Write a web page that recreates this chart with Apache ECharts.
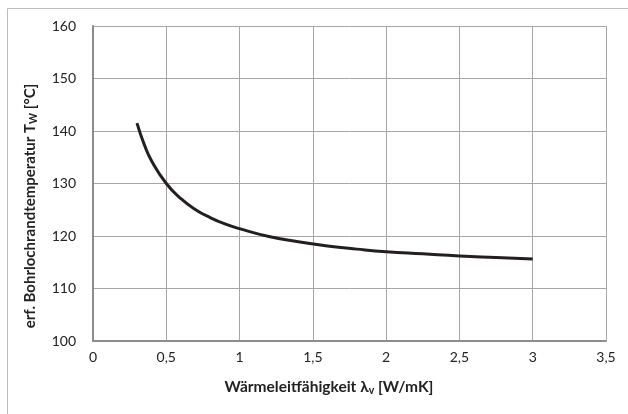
<!DOCTYPE html>
<html>
<head>
<meta charset="utf-8">
<script src="https://cdn.jsdelivr.net/npm/echarts@6/dist/echarts.min.js"></script>
<style>html,body{margin:0;padding:0;background:#fff;}#c{width:628px;height:414px;}</style>
</head>
<body>
<div id="c"></div>
<script>
const lambdaValues = [0.3, 0.35, 0.4, 0.5, 0.6, 0.7, 0.8, 0.9, 1.0, 1.2, 1.4, 1.6, 1.8, 2.0, 2.25, 2.5, 2.75, 3.0];
const tempValues   = [141.5, 137.4, 134.3, 130.0, 127.1, 125.0, 123.5, 122.3, 121.4, 119.9, 118.9, 118.1, 117.5, 117.0, 116.6, 116.2, 115.9, 115.6];
const xTitle = 'Wärmeleitfähigkeit λ';
const yTitle = 'erf. Bohrlochrandtemperatur T';

const font = 'Lato, "Open Sans", sans-serif';
const chart = echarts.init(document.getElementById('c'), null, {renderer: 'canvas'});
chart.setOption({
  backgroundColor: '#fff',
  animation: false,
  grid: {left: 93, right: 22, top: 26, bottom: 73},
  xAxis: {
    type: 'value', min: 0, max: 3.5, interval: 0.5,
    axisLine: {show: true, lineStyle: {color: '#8c8c8c', width: 2}},
    axisTick: {show: false},
    splitLine: {show: true, lineStyle: {color: '#a6a6a6', width: 1}},
    axisLabel: {margin: 9, color: '#222', fontSize: 14, fontFamily: font,
      formatter: v => String(v).replace('.', ',')}
  },
  yAxis: {
    type: 'value', min: 100, max: 160, interval: 10,
    axisLine: {show: true, lineStyle: {color: '#8c8c8c', width: 2}},
    axisTick: {show: false},
    splitLine: {show: true, lineStyle: {color: '#a6a6a6', width: 1}},
    axisLabel: {margin: 17, color: '#222', fontSize: 14, fontFamily: font}
  },
  series: [{
    type: 'line',
    data: lambdaValues.map((x, i) => [x, tempValues[i]]),
    smooth: true,
    showSymbol: false,
    lineStyle: {color: '#231f20', width: 3}
  }],
  graphic: [
    {type: 'rect', shape: {x: 7.5, y: 8.5, width: 700, height: 500}, style: {fill: 'none', stroke: '#bdbdbd', lineWidth: 1}, z: -1},
    {type: 'text', x: 329, y: 387, style: {
      text: '{t|' + xTitle + '}{s|v}{t| [W/mK]}',
      align: 'center', verticalAlign: 'middle',
      rich: {t: {fontSize: 15.5, fontWeight: 'bold', fontFamily: font, fill: '#222'},
             s: {fontSize: 10.5, fontWeight: 'bold', fontFamily: font, fill: '#222', padding: [8, 0, 0, 0]}}
    }},
    {type: 'text', x: 30, y: 206, rotation: Math.PI / 2, style: {
      text: '{t|' + yTitle + '}{s|W}{t| [°C]}',
      align: 'center', verticalAlign: 'middle',
      rich: {t: {fontSize: 15, fontWeight: 'bold', fontFamily: font, fill: '#222'},
             s: {fontSize: 10.5, fontWeight: 'bold', fontFamily: font, fill: '#222', padding: [8, 0, 0, 0]}}
    }}
  ]
});
</script>
</body>
</html>
